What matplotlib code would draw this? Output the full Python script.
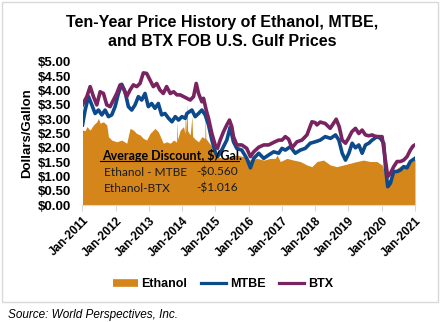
import matplotlib
matplotlib.use("Agg")
import matplotlib.pyplot as plt
from matplotlib.lines import Line2D
from matplotlib.patches import Rectangle

# weekly-ish readings, decimal years
btx_years = [2011.00, 2011.13, 2011.23, 2011.33, 2011.43, 2011.53, 2011.63, 2011.73, 2011.83, 2011.93,
             2012.03, 2012.13, 2012.23, 2012.33, 2012.43, 2012.53, 2012.63, 2012.73, 2012.83, 2012.93,
             2013.03, 2013.13, 2013.23, 2013.33, 2013.43, 2013.53, 2013.64, 2013.74, 2013.84, 2013.94,
             2014.04, 2014.14, 2014.24, 2014.34, 2014.42, 2014.49, 2014.59, 2014.64, 2014.72, 2014.79,
             2014.89, 2014.99, 2015.06, 2015.14, 2015.24, 2015.34, 2015.42, 2015.49, 2015.54, 2015.64,
             2015.79, 2015.94, 2016.05, 2016.15, 2016.30, 2016.45, 2016.60, 2016.75, 2016.90, 2017.00,
             2017.10, 2017.20, 2017.30, 2017.45, 2017.60, 2017.75, 2017.90, 2018.00, 2018.05, 2018.15,
             2018.30, 2018.45, 2018.63, 2018.72, 2018.81, 2018.91, 2019.00, 2019.10, 2019.21, 2019.31,
             2019.41, 2019.51, 2019.61, 2019.71, 2019.81, 2019.91, 2020.01, 2020.11, 2020.18, 2020.26,
             2020.36, 2020.46, 2020.56, 2020.66, 2020.76, 2020.86, 2020.94, 2021.00]
btx = [3.50, 3.79, 4.14, 3.79, 3.50, 3.96, 3.90, 3.50, 3.44, 3.67,
       3.90, 4.20, 4.08, 3.79, 4.02, 4.20, 4.14, 4.25, 4.62, 4.60,
       4.37, 4.14, 4.25, 4.02, 3.90, 4.14, 3.90, 3.96, 3.85, 3.85,
       3.79, 3.73, 3.67, 3.79, 4.25, 3.90, 3.61, 3.73, 3.32, 3.03,
       2.50, 2.10, 1.98, 2.27, 2.56, 2.80, 2.97, 2.74, 2.39, 2.10,
       2.10, 1.98, 1.69, 1.86, 2.02, 2.10, 2.10, 2.19, 2.27, 2.27,
       2.39, 2.30, 2.00, 2.21, 2.27, 2.45, 2.91, 2.88, 2.80, 2.90,
       2.85, 2.68, 3.00, 2.74, 2.27, 2.16, 2.33, 2.56, 2.68, 2.50,
       2.62, 2.45, 2.42, 2.45, 2.40, 2.39, 2.39, 1.57, 0.99, 1.11,
       1.34, 1.52, 1.52, 1.57, 1.69, 1.92, 2.06, 2.10]

mtbe_years = [2011.00, 2011.08, 2011.18, 2011.28, 2011.38, 2011.48, 2011.58, 2011.68, 2011.78, 2011.88,
              2011.98, 2012.08, 2012.18, 2012.28, 2012.38, 2012.48, 2012.58, 2012.68, 2012.78, 2012.88,
              2012.98, 2013.08, 2013.18, 2013.28, 2013.38, 2013.48, 2013.59, 2013.69, 2013.79, 2013.89,
              2013.99, 2014.09, 2014.14, 2014.29, 2014.39, 2014.49, 2014.59, 2014.69, 2014.79, 2014.89,
              2014.99, 2015.06, 2015.14, 2015.24, 2015.34, 2015.44, 2015.54, 2015.64, 2015.79, 2015.94,
              2016.05, 2016.15, 2016.30, 2016.45, 2016.60, 2016.75, 2016.90, 2017.00, 2017.10, 2017.25,
              2017.40, 2017.55, 2017.70, 2017.85, 2018.00, 2018.15, 2018.30, 2018.46, 2018.61, 2018.71,
              2018.81, 2018.91, 2019.01, 2019.11, 2019.21, 2019.31, 2019.41, 2019.51, 2019.61, 2019.71,
              2019.86, 2019.96, 2020.06, 2020.11, 2020.18, 2020.26, 2020.36, 2020.46, 2020.56, 2020.66,
              2020.76, 2020.86, 2021.00]
mtbe = [2.80, 3.32, 3.79, 3.50, 3.20, 3.32, 3.15, 3.32, 3.09, 3.15,
        3.44, 3.90, 4.22, 3.96, 3.44, 3.32, 3.50, 3.79, 3.67, 3.90,
        3.44, 3.55, 3.38, 3.55, 3.15, 3.20, 3.03, 2.91, 3.09, 2.97,
        3.09, 3.03, 3.20, 3.32, 3.09, 3.20, 3.32, 3.15, 2.80, 2.27,
        1.86, 1.69, 1.81, 2.04, 2.27, 2.72, 2.21, 1.98, 1.92, 1.63,
        1.30, 1.63, 1.81, 1.63, 1.75, 1.86, 1.81, 1.98, 1.92, 2.04,
        1.81, 1.92, 1.98, 2.16, 2.21, 2.27, 2.39, 2.33, 2.45, 2.27,
        1.81, 1.57, 1.81, 2.16, 2.00, 2.10, 1.81, 2.10, 2.16, 2.27,
        2.39, 2.33, 2.16, 1.34, 0.64, 0.76, 1.17, 1.17, 1.22, 1.34,
        1.30, 1.52, 1.63]

ethanol_years = [2011.00, 2011.08, 2011.13, 2011.23, 2011.33, 2011.43, 2011.48, 2011.53, 2011.63, 2011.73,
                 2011.78, 2011.88, 2012.03, 2012.18, 2012.33, 2012.43, 2012.53, 2012.63, 2012.73, 2012.83,
                 2012.93, 2013.03, 2013.18, 2013.28, 2013.43, 2013.53, 2013.64, 2013.74, 2013.83, 2013.84,
                 2013.86, 2013.94, 2014.04, 2014.08, 2014.09, 2014.11, 2014.14, 2014.16, 2014.24, 2014.29,
                 2014.31, 2014.39, 2014.49, 2014.59, 2014.68, 2014.69, 2014.71, 2014.79, 2014.89, 2014.99,
                 2015.04, 2015.24, 2015.44, 2015.64, 2015.84, 2016.05, 2016.25, 2016.45, 2016.65, 2016.80,
                 2016.85, 2016.95, 2017.15, 2017.35, 2017.55, 2017.75, 2017.90, 2018.05, 2018.25, 2018.45,
                 2018.65, 2018.85, 2019.05, 2019.25, 2019.45, 2019.65, 2019.85, 2020.01, 2020.11, 2020.18,
                 2020.26, 2020.31, 2020.46, 2020.61, 2020.76, 2020.91, 2021.00]
ethanol = [2.62, 2.60, 2.74, 2.62, 2.80, 2.91, 3.03, 2.86, 2.91, 2.80,
           2.39, 2.27, 2.21, 2.27, 2.16, 2.68, 2.62, 2.50, 2.45, 2.33,
           2.27, 2.50, 2.68, 2.56, 2.16, 2.21, 2.16, 2.27, 2.20, 2.97,
           2.30, 2.62, 2.74, 2.50, 3.30, 2.55, 3.55, 2.60, 2.45, 3.10,
           2.40, 2.30, 2.21, 2.39, 2.33, 3.20, 2.33, 2.20, 2.05, 1.98,
           1.69, 1.63, 1.69, 1.75, 1.69, 1.57, 1.63, 1.57, 1.63, 1.63,
           1.75, 1.52, 1.63, 1.57, 1.52, 1.40, 1.34, 1.52, 1.57, 1.40,
           1.34, 1.40, 1.46, 1.52, 1.57, 1.52, 1.52, 1.40, 1.05, 0.85,
           0.95, 1.11, 1.28, 1.40, 1.40, 1.52, 1.60]

tick_years = list(range(2011, 2022))
tick_labels = ["Jan-%d" % y for y in tick_years]
y_ticks = [0.0, 0.5, 1.0, 1.5, 2.0, 2.5, 3.0, 3.5, 4.0, 4.5, 5.0]

orange = "#D4861A"
blue = "#0D4A8C"
purple = "#7A2361"
grey = "#D9D9D9"

plt.rcParams["font.family"] = ["Liberation Sans", "DejaVu Sans"]

fig = plt.figure(figsize=(4.42, 3.22), dpi=100)
ax = fig.add_axes([82.5 / 442, 1 - 205 / 322, (415 - 82.5) / 442, (205 - 62) / 322])

ax.fill_between(ethanol_years, ethanol, 0, color=orange, linewidth=0)
ax.plot(mtbe_years, mtbe, color=blue, linewidth=2.6)
ax.plot(btx_years, btx, color=purple, linewidth=2.6)

ax.set_xlim(2011, 2021)
ax.set_ylim(0, 5)
ax.set_xticks(tick_years)
ax.set_xticklabels(tick_labels, rotation=45, ha="right", rotation_mode="anchor",
                   fontsize=8.5, fontweight="bold")
ax.set_yticks(y_ticks)
ax.set_yticklabels(["$%.2f" % v for v in y_ticks], fontsize=9.5, fontweight="bold")
ax.tick_params(axis="y", length=0, pad=8)
ax.tick_params(axis="x", length=4, color=grey, pad=3)
for side in ["left", "right", "top"]:
    ax.spines[side].set_visible(False)
ax.spines["bottom"].set_color(grey)
ax.set_ylabel("Dollars/Gallon", fontsize=9.5, fontweight="bold")
ax.yaxis.set_label_coords(-0.149, 0.5)

# discount box
box_font = dict(family="Lato", fontsize=8.6, va="center", color="#1A1A1A")
fig.text(102 / 442, 1 - 155 / 322, "Average Discount, $/Gal.", family="Lato",
         fontsize=9, fontweight="bold", va="center")
fig.add_artist(Line2D([100 / 442, 239 / 442], [1 - 161 / 322] * 2, color="black", lw=0.8))
fig.text(104 / 442, 1 - 172 / 322, "Ethanol - MTBE", **box_font)
fig.text(196 / 442, 1 - 172 / 322, "-$0.560", **box_font)
fig.text(104 / 442, 1 - 188 / 322, "Ethanol-BTX", **box_font)
fig.text(196 / 442, 1 - 188 / 322, "-$1.016", **box_font)

fig.suptitle("Ten-Year Price History of Ethanol, MTBE,\nand BTX FOB U.S. Gulf Prices",
             x=222 / 442, y=1 - 15 / 322, fontsize=11.5, fontweight="bold", va="top",
             linespacing=1.3)

handles = [Line2D([], [], color=orange, lw=5.5, solid_capstyle="butt"),
           Line2D([], [], color=blue, lw=2.3),
           Line2D([], [], color=purple, lw=2.3)]
fig.legend(handles, ["Ethanol", "MTBE", "BTX"], loc="center", ncol=3,
           bbox_to_anchor=(223 / 442, 1 - 284 / 322), frameon=False,
           prop={"weight": "bold", "size": 9}, handlelength=2.0,
           handletextpad=0.3, columnspacing=1.1)

fig.add_artist(Rectangle((2 / 442, 1 - 302 / 322), 436 / 442, 300 / 322,
                         transform=fig.transFigure, fill=False, edgecolor=grey, lw=1))
fig.text(8 / 442, 1 - 315 / 322, "Source: World Perspectives, Inc.", fontsize=8.5,
         style="italic", va="center")

fig.savefig("out.png", dpi=100)
